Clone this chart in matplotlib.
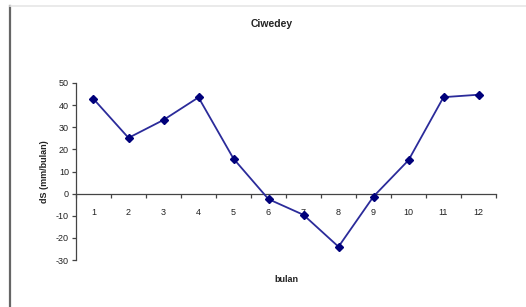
import matplotlib
matplotlib.use("Agg")
import matplotlib.pyplot as plt
from matplotlib.lines import Line2D
import numpy as np

# monthly storage change (dS), Ciwedey
bulan = [1, 2, 3, 4, 5, 6, 7, 8, 9, 10, 11, 12]
ds = [42.8, 25.2, 33.3, 43.5, 15.8, -2.5, -9.6, -24.0, -1.3, 15.1, 43.6, 44.7]
yticks = [-30, -20, -10, 0, 10, 20, 30, 40, 50]

plt.rcParams['font.family'] = ['Liberation Sans', 'DejaVu Sans']
plt.rcParams['axes.unicode_minus'] = False

fig = plt.figure(figsize=(5.26, 3.07), dpi=100)
ax = fig.add_axes([76/526, 1 - 260/307, 420/526, 177/307])

ax.plot(bulan, ds, color='#2b2b9a', lw=1.3, marker='D', ms=4.5,
        mfc='#00007a', mec='#00007a', zorder=3)

ax.set_xlim(0.5, 12.5)
ax.set_ylim(-30, 50)
ax.set_yticks(yticks)
ax.set_xticks(bulan)
ax.set_xticks(np.arange(0.5, 13, 1), minor=True)

for s in ['top', 'right']:
    ax.spines[s].set_visible(False)
ax.spines['bottom'].set_position(('data', 0))
for s in ['left', 'bottom']:
    ax.spines[s].set_color('#444444')
    ax.spines[s].set_linewidth(0.9)

ax.tick_params(axis='y', direction='out', length=3, width=0.9, color='#444444',
               labelsize=6.5, labelcolor='#222222', pad=2)
ax.tick_params(axis='x', which='major', length=0, labelsize=6.5,
               labelcolor='#222222', pad=10)
ax.tick_params(axis='x', which='minor', direction='out', length=3, width=0.9,
               color='#444444')

ax.set_ylabel('dS (mm/bulan)', fontsize=6.5, fontweight='bold', color='#222222',
              labelpad=5)
fig.text(286/526, 1 - 279/307, 'bulan', fontsize=6.5, fontweight='bold',
         color='#222222', ha='center', va='center')
fig.text(272/526, 1 - 24/307, 'Ciwedey', fontsize=7.5, fontweight='bold',
         color='#222222', ha='center', va='center')

# frame edges from the source page
fig.add_artist(Line2D([10/526, 10/526], [0, 1 - 6/307], color='#666666', lw=1.6))
fig.add_artist(Line2D([10/526, 1], [1 - 6/307, 1 - 6/307], color='#e6e6e6', lw=1.2))

fig.savefig('out.png', dpi=100)
